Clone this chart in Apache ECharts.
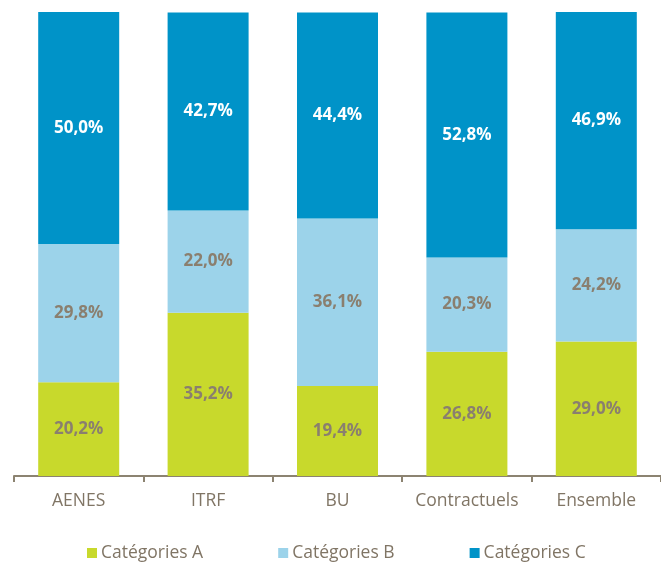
<!DOCTYPE html>
<html><head><meta charset="utf-8">
<script src="https://cdn.jsdelivr.net/npm/echarts@6/dist/echarts.min.js"></script>
<style>html,body{margin:0;padding:0;background:#fff}#c{width:661px;height:562px}</style>
</head><body><div id="c"></div>
<script>
var categories = ['AENES', 'ITRF', 'BU', 'Contractuels', 'Ensemble'];
var seriesNames = ['Catégories A', 'Catégories B', 'Catégories C'];
var valuesA = [20.2, 35.2, 19.4, 26.8, 29.0];
var valuesB = [29.8, 22.0, 36.1, 20.3, 24.2];
var valuesC = [50.0, 42.7, 44.4, 52.8, 46.9];

var colors = ['#c8d92c', '#9cd3ea', '#0093c8'];
var labelColors = ['#8a7f6f', '#8a7f6f', '#ffffff'];
var fontFam = '"Open Sans", sans-serif';
function fmt(v){ return v.toFixed(1).replace('.', ',') + '%'; }

var chart = echarts.init(document.getElementById('c'));
var data = [valuesA, valuesB, valuesC];
chart.setOption({
  animation: false,
  grid: { left: 14, top: 12, width: 650, bottom: 86, containLabel: false },
  legend: {
    top: 539, left: 82,
    itemWidth: 10, itemHeight: 10, itemGap: 75,
    icon: 'rect',
    textStyle: { color: '#807565', fontSize: 17.5, fontFamily: fontFam, padding: [0,0,0,-1] },
    data: seriesNames
  },
  xAxis: {
    type: 'category', data: categories,
    axisLine: { lineStyle: { color: '#8c8371', width: 2 } },
    axisTick: { show: true, interval: 0, alignWithLabel: false, length: 6, lineStyle: { color: '#8c8371', width: 2 } },
    axisLabel: { interval: 0, hideOverlap: false, color: '#807565', fontSize: 17.5, fontFamily: fontFam, margin: 16 }
  },
  yAxis: { type: 'value', min: 0, max: 100, show: false, splitLine: { show: false } },
  series: data.map(function(vals, i){
    return {
      name: seriesNames[i], type: 'bar', stack: 'total', barWidth: 81,
      itemStyle: { color: colors[i] },
      label: {
        show: true, position: 'inside', color: labelColors[i],
        fontSize: 17, fontWeight: 'bold', fontFamily: fontFam,
        formatter: function(p){ return fmt(p.value); }
      },
      data: vals
    };
  })
});
</script></body></html>
